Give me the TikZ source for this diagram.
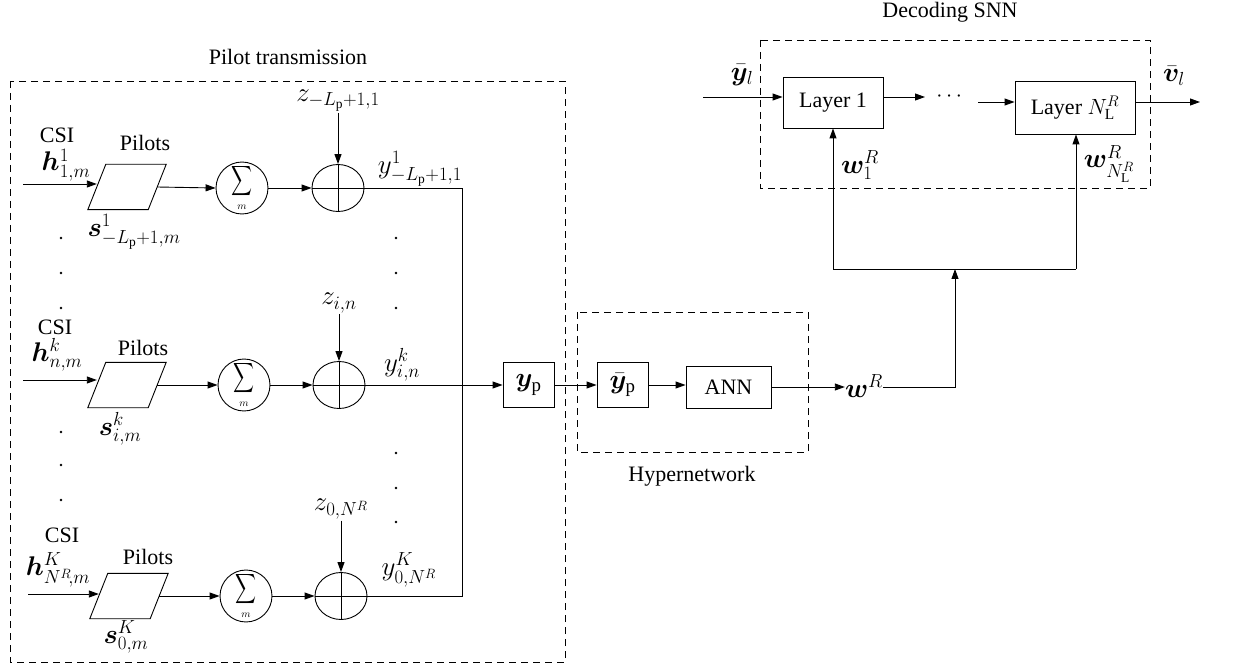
\RequirePackage{fix-cm}
\documentclass[tikz,border=0pt]{standalone}
\usepackage{amsmath}
\usepackage{bm}
\usepackage{graphicx}
\usepackage{fontspec}
\setmainfont{Liberation Serif}
\usetikzlibrary{arrows.meta,shapes.geometric}
\newcommand\mypara[1]{\draw[line] ([xshift=-9pt]#1.south west) -- ([xshift=-9pt]#1.south east) -- ([xshift=9pt]#1.north east) -- ([xshift=9pt]#1.north west) -- cycle;}
\newcommand\mycross[1]{\draw[line] (#1.north) -- (#1.south) (#1.west) -- (#1.east);}
\newcommand\mysum{$\displaystyle\mathop{\scalebox{0.7}[1]{$\displaystyle\sum$}}\limits_{\scriptscriptstyle m}$}
\begin{document}
\begin{tikzpicture}[x=1pt,y=-1pt,
  every node/.style={font=\rmfamily\fontsize{22}{26}\selectfont, inner sep=1pt},
  ml/.style={font=\rmfamily\fontsize{27}{31}\selectfont, inner sep=1pt},
  line/.style={line width=0.9pt},
  arr/.style={line width=0.9pt,-{Triangle[length=10pt,width=7pt]}},
  dbox/.style={line width=0.9pt, dash pattern=on 7pt off 5pt},
  blk/.style={draw, line width=0.9pt, minimum width=51pt, minimum height=45pt, inner sep=0pt},
  para/.style={minimum width=60pt, minimum height=45pt, inner sep=0pt},
  sumc/.style={draw, circle, line width=0.9pt, minimum size=48pt, inner sep=0pt, font=\fontsize{21}{24}\selectfont},
  plusc/.style={draw, ellipse, line width=0.9pt, minimum width=52pt, minimum height=47pt, inner sep=0pt}]
\useasboundingbox (0,0) rectangle (1237,668);

% dashed group boxes
\draw[dbox] (10,81) rectangle (565,662);
\draw[dbox] (577,312) rectangle (808,452);
\draw[dbox] (760,40) rectangle (1150,188);
\node (tpilot) at (288,57) {Pilot transmission};
\node (thyper) at (692,476) {Hypernetwork};
\node (tdec) at (950,12) {Decoding SNN};

% ---------- Row 1 ----------
\node[para] (pa1) at (127,187) {};
\mypara{pa1}
\node[sumc] (s1) at (242,188) {\mysum};
\node[plusc] (p1) at (338,188) {};
\mycross{p1}
\coordinate (i1) at (23,184);
\draw[arr] (i1) -- (i1 -| pa1.west);
\draw[arr] (pa1.east) -- (s1.west);
\draw[arr] (s1.east) -- (p1.west);
\node (csi1) at (57,135) {CSI};
\node[ml] (h1) at (66,165) {$\bm{h}^1_{1,m}$};
\node (pl1) at (145,143) {Pilots};
\node[ml] (sl1) at (134,232) {$\bm{s}^1_{-L_\mathrm{p}+1,m}$};
\node[ml] (z1) at (338,101) {$z_{-L_\mathrm{p}+1,1}$};
\draw[arr] (z1.south) -- (p1.north);
\node[ml] (y1) at (420,169) {$y^1_{-L_\mathrm{p}+1,1}$};

% ---------- Row 2 ----------
\node[para] (pa2) at (127,385) {};
\mypara{pa2}
\node[sumc] (s2) at (244,385) {\mysum};
\node[plusc] (p2) at (339,385) {};
\mycross{p2}
\coordinate (i2) at (23,380);
\draw[arr] (i2) -- (i2 -| pa2.west);
\draw[arr] (pa2.east) -- (s2.west);
\draw[arr] (s2.east) -- (p2.west);
\node (csi2) at (55,327) {CSI};
\node[ml] (h2) at (57,355) {$\bm{h}^k_{n,m}$};
\node (pl2) at (143,348) {Pilots};
\node[ml] (sl2) at (120,429) {$\bm{s}^k_{i,m}$};
\node[ml] (z2) at (339,303) {$z_{i,n}$};
\draw[arr] (z2.south) -- (p2.north);
\node[ml] (y2) at (402,365) {$y^k_{i,n}$};

% ---------- Row 3 ----------
\node[para] (pa3) at (129,596) {};
\mypara{pa3}
\node[sumc] (s3) at (246,596) {\mysum};
\node[plusc] (p3) at (341,596) {};
\mycross{p3}
\coordinate (i3) at (28,594);
\draw[arr] (i3) -- (i3 -| pa3.west);
\draw[arr] (pa3.east) -- (s3.west);
\draw[arr] (s3.east) -- (p3.west);
\node (csi3) at (62,535) {CSI};
\node[ml] (h3) at (58,570) {$\bm{h}^K_{N^R\!,m}$};
\node (pl3) at (148,557) {Pilots};
\node[ml] (sl3) at (126,637) {$\bm{s}^K_{0,m}$};
\node[ml] (z3) at (341,509) {$z_{0,N^R}$};
\draw[arr] (z3.south) -- (p3.north);
\node[ml] (y3) at (409,570) {$y^K_{0,N^R}$};

% dots
\foreach \yy in {238,273,308,432,465,500} \fill (61,\yy) circle (1.4pt);
\foreach \yy in {238,273,308,453,488,522} \fill (396,\yy) circle (1.4pt);

% collector
\coordinate (c1) at (462,188);
\coordinate (c3) at (462,596);
\draw[line] (p1.east) -- (c1) -- (c3) -- (p3.east);

% hypernetwork chain
\node[blk, ml] (yp) at (528.5,385) {$\bm{y}_\mathrm{p}$};
\node[blk, ml] (ybp) at (622.5,385) {$\bar{\bm{y}}_\mathrm{p}$};
\node[blk, minimum width=85pt, minimum height=42pt] (ann) at (728.5,387) {ANN};
\draw[arr] (p2.east) -- (yp.west);
\draw[arr] (yp.east) -- (ybp.west);
\draw[arr] (ybp.east) -- (ybp.east -| ann.west);
\node[ml, inner sep=0pt] (wR) at (864,386) {$\bm{w}^R$};
\draw[arr] (ann.east) -- (ann.east -| wR.west);

% decoding SNN
\node[blk, minimum width=100pt, minimum height=51pt] (L1) at (833,102.5) {Layer 1};
\node[blk, minimum width=120pt, minimum height=53pt] (LN) at (1075,107.5) {Layer $N^R_\mathrm{L}$};
\node (dots) at (951,97) {$\cdots$};
\coordinate (in) at (703,97);
\draw[arr] (in) -- (in -| L1.west);
\draw[arr] (L1.east |- dots) -- (925,97);
\coordinate (d2) at (978,102);
\draw[arr] (d2) -- (d2 -| LN.west);
\coordinate (out) at (1200,102);
\draw[arr] (out -| LN.east) -- (out);
\node[ml] (ylbar) at (742,75) {$\bar{\bm{y}}_l$};
\node[ml] (vlbar) at (1174,76) {$\bar{\bm{v}}_l$};

% weight distribution
\coordinate (jn) at (955,269);
\coordinate (jl) at (833,269);
\coordinate (jr) at (1076,269);
\draw[arr] (wR.east |- ann.east) -| (jn);
\draw[line] (jl) -- (jr);
\draw[arr] (jl) -- (L1.south);
\draw[arr] (jr) -- (jr |- LN.south);
\node[ml] (w1) at (860,165) {$\bm{w}^R_1$};
\node[ml] (wN) at (1109,164) {$\bm{w}^R_{N^R_\mathrm{L}}$};
\end{tikzpicture}
\end{document}
